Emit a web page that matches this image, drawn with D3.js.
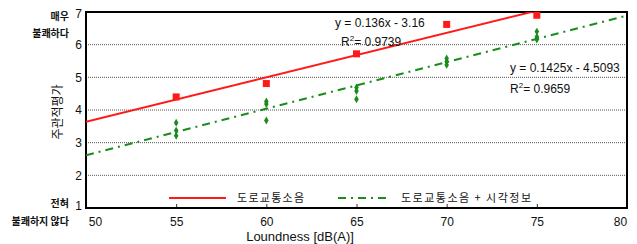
<!DOCTYPE html>
<html>
<head>
<meta charset="utf-8">
<script src="https://cdn.jsdelivr.net/npm/d3@7"></script>
<style>
  body { margin: 0; background: #fff; }
  svg text { font-family: "Liberation Sans", Arial, sans-serif; fill: #111; }
  .kr { font-family: "Noto Sans CJK KR", sans-serif; }
</style>
</head>
<body>
<svg id="chart" width="637" height="244"></svg>
<script>
// 데이터
var xTicks = [50, 55, 60, 65, 70, 75, 80];
var yTicks = [1, 2, 3, 4, 5, 6, 7];

// 도로교통소음
var roadX = [55, 60, 65, 70, 75];
var roadY = [4.4, 4.81, 5.72, 6.62, 6.9];
var roadFit = [0.136, -3.16];

// 도로교통소음 + 시각정보
var visualX = [55, 55, 55, 60, 60, 60, 65, 65, 65, 70, 70, 70, 75, 75, 75];
var visualY = [3.61, 3.37, 3.21, 4.26, 4.18, 3.68, 4.69, 4.58, 4.33, 5.58, 5.48, 5.38, 6.40, 6.24, 6.16];
var visualFit = [0.1425, -4.5093];

var margin = { left: 86, right: 10, top: 12, bottom: 36 },
  width = 637 - margin.left - margin.right,
  height = 244 - margin.top - margin.bottom;

var svg = d3.select('#chart');
var g = svg.append('g').attr('transform', 'translate(' + margin.left + ',' + margin.top + ')');

var x = d3.scaleLinear().domain([50, 80]).range([0, width]);
var y = d3.scaleLinear().domain([1, 7]).range([height, 0]);

// 격자선
g.selectAll('.grid')
  .data(yTicks.filter(function (d) { return d > 1 && d < 7; }))
  .enter()
  .append('line')
  .attr('x1', 0).attr('x2', width)
  .attr('y1', function (d) { return y(d); })
  .attr('y2', function (d) { return y(d); })
  .attr('stroke', '#555')
  .attr('stroke-width', 1)
  .attr('stroke-dasharray', '1,1');

// 축
var xAxis = g.append('g')
  .attr('transform', 'translate(0,' + height + ')')
  .call(d3.axisBottom(x).tickValues(xTicks).tickSize(-4).tickPadding(9).tickFormat(d3.format('d')));
xAxis.select('.domain').remove();
xAxis.selectAll('line').attr('stroke', '#333');
xAxis.selectAll('text')
  .style('font-size', '12px')
  .attr('dx', function (d) { return d === 50 ? 9 : (d === 80 ? -7 : 0); });

var yAxis = g.append('g')
  .call(d3.axisLeft(y).tickValues(yTicks).tickSize(0).tickPadding(4).tickFormat(d3.format('d')));
yAxis.select('.domain').remove();
yAxis.selectAll('text')
  .style('font-size', '12px')
  .attr('dy', function (d) { return d === 1 ? '0.1em' : (d === 7 ? '0.45em' : '0.32em'); });

// 테두리
g.append('rect')
  .attr('width', width).attr('height', height)
  .attr('fill', 'none').attr('stroke', '#000').attr('stroke-width', 2);

// 회귀선
g.append('clipPath').attr('id', 'clip')
  .append('rect').attr('width', width).attr('height', height);

function fitLine(f) {
  return [50, 80].map(function (v) { return [x(v), y(f[0] * v + f[1])]; });
}
var line = d3.line();

g.append('path')
  .attr('clip-path', 'url(#clip)')
  .attr('d', line(fitLine(roadFit)))
  .attr('stroke', '#ff1a1a').attr('stroke-width', 2).attr('fill', 'none');

g.append('path')
  .attr('clip-path', 'url(#clip)')
  .attr('d', line(fitLine(visualFit)))
  .attr('stroke', '#1a8c1a').attr('stroke-width', 2).attr('fill', 'none')
  .attr('stroke-dasharray', '8,5,2,5');

// 점
g.selectAll('.sq')
  .data(roadX)
  .enter()
  .append('rect')
  .attr('x', function (d) { return x(d) - 3.5; })
  .attr('y', function (d, i) { return y(roadY[i]) - 3.5; })
  .attr('width', 7).attr('height', 7)
  .attr('fill', '#ff1a1a');

g.selectAll('.dm')
  .data(visualX)
  .enter()
  .append('path')
  .attr('d', d3.symbol().type(d3.symbolDiamond).size(18))
  .attr('transform', function (d, i) { return 'translate(' + x(d) + ',' + y(visualY[i]) + ')'; })
  .attr('fill', '#1a8c1a');

// 회귀식
svg.append('text').attr('x', 335).attr('y', 27).style('font-size', '12px').text('y = 0.136x - 3.16');
var r1 = svg.append('text').attr('x', 341).attr('y', 46).style('font-size', '12px');
r1.append('tspan').text('R');
r1.append('tspan').attr('dy', -5).style('font-size', '8px').text('2');
r1.append('tspan').attr('dy', 5).text('= 0.9739');

svg.append('text').attr('x', 510).attr('y', 72).style('font-size', '12px').text('y = 0.1425x - 4.5093');
var r2 = svg.append('text').attr('x', 510).attr('y', 93).style('font-size', '12px');
r2.append('tspan').text('R');
r2.append('tspan').attr('dy', -5).style('font-size', '8px').text('2');
r2.append('tspan').attr('dy', 5).text('= 0.9659');

// 범례
svg.append('line').attr('x1', 169).attr('x2', 226).attr('y1', 198).attr('y2', 198)
  .attr('stroke', '#ff1a1a').attr('stroke-width', 2);
svg.append('text').attr('class', 'kr').attr('x', 237).attr('y', 202).style('font-size', '11px')
  .attr('textLength', 67).text('도로교통소음');
svg.append('line').attr('x1', 338).attr('x2', 386).attr('y1', 198).attr('y2', 198)
  .attr('stroke', '#1a8c1a').attr('stroke-width', 2).attr('stroke-dasharray', '8,5,2,5');
svg.append('text').attr('class', 'kr').attr('x', 401).attr('y', 202).style('font-size', '11px')
  .attr('textLength', 130).text('도로교통소음 + 시각정보');

// 축 제목
svg.append('text').attr('x', 300).attr('y', 241).attr('text-anchor', 'middle')
  .style('font-size', '13px').text('Loundness [dB(A)]');
svg.append('text').attr('class', 'kr')
  .attr('transform', 'translate(62,112) rotate(-90)')
  .attr('text-anchor', 'middle').style('font-size', '12px').text('주관적평가');

var yLabels = [['매우', 20], ['불쾌하다', 37], ['전혀', 207], ['불쾌하지 않다', 225]];
svg.selectAll('.yl')
  .data(yLabels)
  .enter()
  .append('text')
  .attr('class', 'kr')
  .attr('x', 69)
  .attr('y', function (d) { return d[1]; })
  .attr('text-anchor', 'end')
  .style('font-size', '10px')
  .style('font-weight', 'bold')
  .text(function (d) { return d[0]; });
</script>
</body>
</html>
